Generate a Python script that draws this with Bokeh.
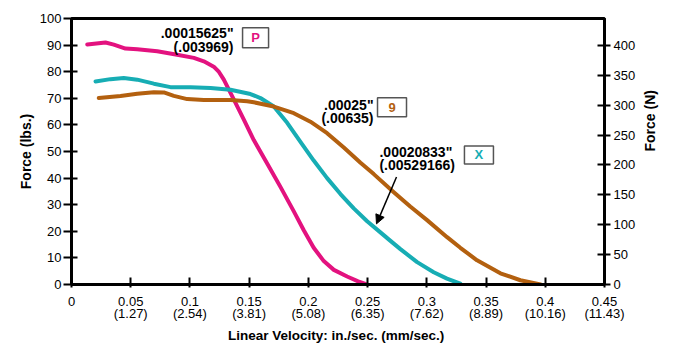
import math
from bokeh.plotting import figure
from bokeh.models import Range1d, LinearAxis, FixedTicker, Arrow, NormalHead, Label
from bokeh.core.properties import value
from bokeh.embed import file_html
from bokeh.resources import INLINE

# ---- data ----
p_x = [0.0133, 0.0287, 0.0357, 0.0456, 0.0555, 0.0724, 0.0892, 0.1033, 0.1117, 0.1201, 0.1245, 0.1286,
       0.1370, 0.1455, 0.1539, 0.1652, 0.1764, 0.1877, 0.1961, 0.2045, 0.2130, 0.2215, 0.2327,
       0.2420, 0.2481]
p_y = [90.2, 91.0, 90.2, 88.7, 88.4, 87.7, 86.4, 85.2, 83.9, 81.9, 79.9, 77.0,
       69.6, 62.0, 54.3, 45.5, 36.7, 27.5, 20.4, 13.8, 8.8, 5.5, 3.0,
       1.2, 0.2]

x_x = [0.0203, 0.0329, 0.0441, 0.0555, 0.0695, 0.0836, 0.1005, 0.1174, 0.1342, 0.1511, 0.1595,
       0.1708, 0.1821, 0.1933, 0.2045, 0.2158, 0.2271, 0.2383, 0.2496, 0.2608, 0.2693, 0.2777,
       0.2918, 0.3058, 0.3170, 0.3283]
x_y = [76.3, 77.2, 77.6, 77.0, 75.5, 74.2, 74.2, 73.9, 73.2, 71.6, 70.1,
       66.9, 60.8, 53.6, 46.6, 40.0, 34.0, 28.6, 23.8, 19.6, 16.4, 13.3,
       8.4, 4.6, 2.2, 0.3]

n_x = [0.0230, 0.0414, 0.0555, 0.0695, 0.0780, 0.0864, 0.0977, 0.1117, 0.1342, 0.1483, 0.1539,
       0.1708, 0.1877, 0.2017, 0.2158, 0.2299, 0.2440, 0.2552, 0.2721, 0.2860, 0.3002, 0.3171,
       0.3283, 0.3424, 0.3621, 0.3790, 0.3960]
n_y = [70.1, 70.9, 71.7, 72.3, 72.2, 70.9, 69.7, 69.4, 69.4, 68.9, 68.5,
       66.9, 64.4, 61.2, 56.9, 51.5, 45.8, 41.5, 34.7, 29.3, 24.2, 17.8,
       13.8, 9.1, 4.2, 1.6, 0.0]

x_ticks = [0, 0.05, 0.1, 0.15, 0.2, 0.25, 0.3, 0.35, 0.4, 0.45]
x_tick_labels = ["0", "0.05\n(1.27)", "0.1\n(2.54)", "0.15\n(3.81)", "0.2\n(5.08)", "0.25\n(6.35)",
                 "0.3\n(7.62)", "0.35\n(8.89)", "0.4\n(10.16)", "0.45\n(11.43)"]
y_ticks = [0, 10, 20, 30, 40, 50, 60, 70, 80, 90, 100]
n_ticks = [0, 50, 100, 150, 200, 250, 300, 350, 400]

MAGENTA = "#E3127F"
TEAL = "#17ADB4"
BROWN = "#B3600F"
FONT = "Liberation Sans"

p = figure(width=674, height=353, output_backend="svg", toolbar_location=None,
           x_range=Range1d(0, 0.45), y_range=Range1d(0, 100),
           min_border_left=71, min_border_right=70, min_border_top=18, min_border_bottom=69)
p.extra_y_ranges = {"N": Range1d(0, 444.82)}
p.xgrid.visible = False
p.ygrid.visible = False
p.outline_line_color = "black"
p.outline_line_width = 3
p.background_fill_color = "white"
p.border_fill_color = "white"

# axes
xa = p.xaxis[0]
xa.ticker = FixedTicker(ticks=x_ticks)
xa.major_label_overrides = {t: l for t, l in zip(x_ticks, x_tick_labels)}
xa.axis_label = "Linear Velocity:  in./sec. (mm/sec.)"

ya = p.yaxis[0]
ya.ticker = FixedTicker(ticks=y_ticks)
ya.axis_label = "Force (lbs.)"

ra = LinearAxis(y_range_name="N", ticker=FixedTicker(ticks=n_ticks), axis_label="Force (N)")
p.add_layout(ra, "right")

for ax in (xa, ya, ra):
    ax.axis_line_width = 3
    ax.axis_line_color = "black"
    ax.major_tick_line_width = 2
    ax.major_tick_line_color = "black"
    ax.minor_tick_line_color = None
    ax.major_label_text_font = FONT
    ax.major_label_text_font_size = "13px"
    ax.major_label_text_color = "black"
    ax.axis_label_text_font = FONT
    ax.axis_label_text_font_size = "14px"
    ax.axis_label_text_font_style = "bold"
    ax.axis_label_text_color = "black"

xa.axis_label_text_font_size = "13.5px"
xa.major_label_text_line_height = 0.8
xa.major_tick_in = 7
xa.major_tick_out = 3
xa.major_label_standoff = 6
xa.axis_label_standoff = 4
ya.major_tick_in = 6
ya.major_tick_out = 8
ya.major_label_standoff = 2
ya.axis_label_standoff = 3
ra.major_tick_in = 7
ra.major_tick_out = 6
ra.major_label_standoff = 3
ra.axis_label_standoff = 12
try:
    ra.axis_label_orientation = math.pi / 2
except Exception:
    ra.axis_label = None
    p.add_layout(Label(x=652, y=151, x_units="screen", y_units="screen", text="Force (N)", angle=math.pi / 2,
                       text_font=FONT, text_font_size="14px", text_font_style="bold",
                       text_align="center", text_baseline="middle"))

# curves
p.line(p_x, p_y, line_color=MAGENTA, line_width=4, line_join="round", line_cap="round")
p.line(x_x, x_y, line_color=TEAL, line_width=4, line_join="round", line_cap="round")
p.line(n_x, n_y, line_color=BROWN, line_width=4, line_join="round", line_cap="round")

# annotations
tkw = dict(text_font=value(FONT), text_font_size="14px", text_font_style="bold",
           text_color="black", text_baseline="middle")
p.text(x=[0.1368, 0.1368], y=[94.7, 89.4], text=['.00015625"', '(.003969)'], text_align="right", **tkw)
p.text(x=[0.2550, 0.2550], y=[67.5, 62.6], text=['.00025"', '(.00635)'], text_align="right", **tkw)
p.text(x=[0.2600, 0.2600], y=[49.8, 44.9], text=['.00020833"', '(.00529166)'], text_align="left", **tkw)

p.rect(x=[0.1554], y=[92.8], width=26, height=20, width_units="screen", height_units="screen",
       fill_color="white", line_color="#555555", line_width=1.5)
p.rect(x=[0.2706], y=[66.6], width=29, height=19, width_units="screen", height_units="screen",
       fill_color="white", line_color="#555555", line_width=1.5)
p.rect(x=[0.3440], y=[48.7], width=29, height=18, width_units="screen", height_units="screen",
       fill_color="white", line_color="#555555", line_width=1.5)

bkw = dict(text_font=value(FONT), text_font_size="13px", text_font_style="bold",
           text_align="center", text_baseline="middle")
p.text(x=[0.1554], y=[92.8], text=["P"], text_color=MAGENTA, **bkw)
p.text(x=[0.2706], y=[66.6], text=["9"], text_color=BROWN, **bkw)
p.text(x=[0.3440], y=[48.7], text=["X"], text_color=TEAL, **bkw)

p.add_layout(Arrow(x_start=0.2744, y_start=40.4, x_end=0.2575, y_end=22.8,
                   line_color="black", line_width=1.5,
                   end=NormalHead(size=9, fill_color="black", line_color="black")))

open("out.html", "w").write(file_html(p, INLINE))
